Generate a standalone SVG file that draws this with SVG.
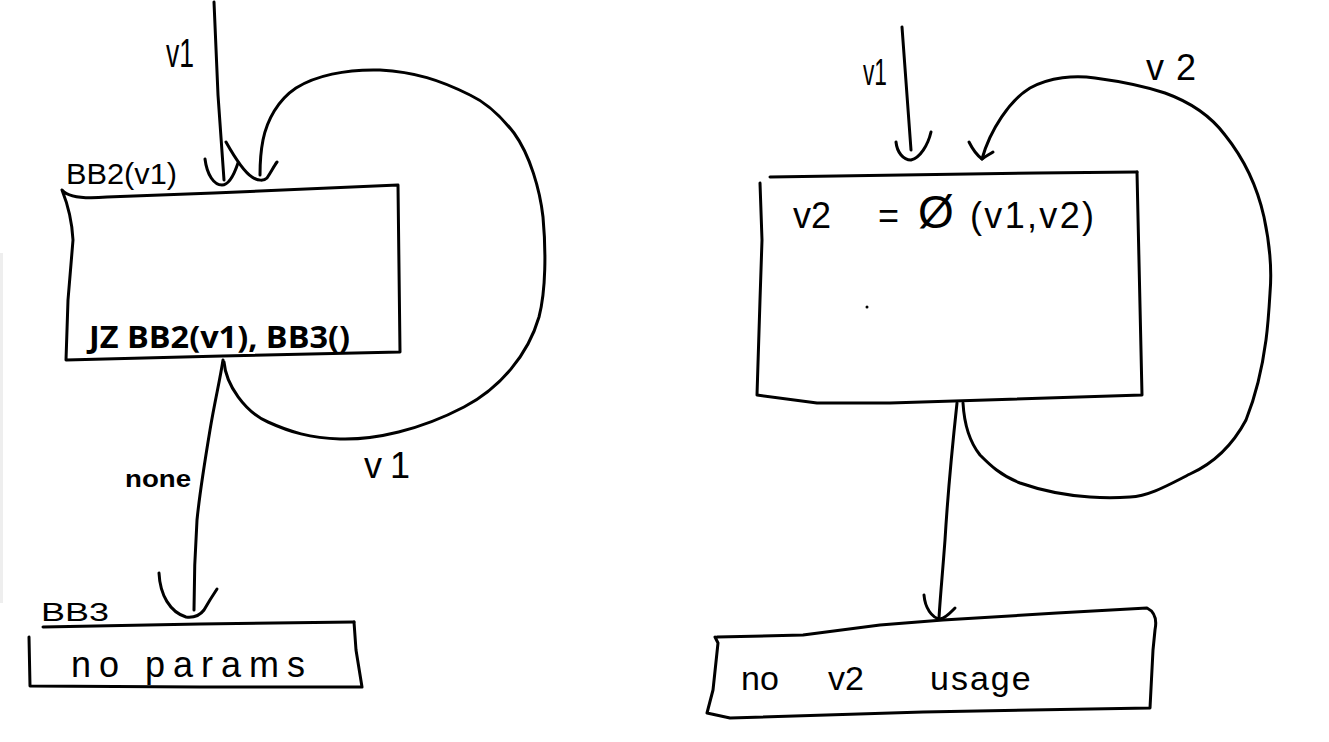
<svg xmlns="http://www.w3.org/2000/svg" width="1329" height="742" viewBox="0 0 1329 742">
<style>
.ln{fill:none;stroke:#000;stroke-width:3;stroke-linecap:round;stroke-linejoin:round}
.hw{font-family:"Liberation Sans","DejaVu Sans",sans-serif;fill:#000}
.code{font-family:"Open Sans","Liberation Sans",sans-serif;font-weight:bold;fill:#000}
</style>
<rect x="0" y="0" width="1329" height="742" fill="#fff"/>
<rect x="0" y="253" width="3" height="350" fill="#eeeeee"/>

<g id="connectors">
  <!-- left incoming v1 -->
  <path class="ln" d="M214,2 L218,95 L224,180"/>
  <path class="ln" d="M205,159 C207,175 214,185 222,185 C230,185 235,172 238,163"/>
  <!-- left loop -->
  <path class="ln" d="M224,362 C226,385 245,412 268,422 C290,432 310,438 340,439 C375,440 420,430 464,407 C500,388 528,355 539,317 C546,290 546,250 543,217 C540,190 530,155 514,133 C500,115 485,102 470,95 C440,80 415,72 380,70 C345,69 315,76 296,88 C278,100 267,120 263,140 C260,155 260,165 260,175"/>
  <path class="ln" d="M226,142 C235,158 244,172 252,177 C258,181 264,181 267,178 C271,172 274,166 277,162"/>
  <!-- left down to BB3 -->
  <path class="ln" d="M223,360 C220,380 215,400 210,430 C205,460 200,490 197,520 C195,550 194,580 194,610"/>
  <path class="ln" d="M159,573 C160,595 170,612 186,617 C195,618 201,614 204,610 C208,603 213,595 217,589"/>
  <!-- right incoming v1 -->
  <path class="ln" d="M902,27 C905,70 908,110 911,150"/>
  <path class="ln" d="M896,142 C897,152 903,160 911,160 C920,158 928,145 931,132"/>
  <!-- right loop -->
  <path class="ln" d="M963,403 C964,420 968,440 980,455 C990,465 1000,475 1020,483 C1040,490 1060,495 1090,497 C1105,498 1115,498 1130,497 C1150,496 1170,484 1190,474 C1210,465 1230,450 1246,420 C1254,400 1262,370 1266,340 C1268,325 1269,310 1270,293 C1272,270 1270,245 1264,217 C1258,190 1245,160 1225,135 C1210,115 1190,102 1165,93 C1150,88 1125,82 1095,78 C1075,75 1050,77 1030,88 C1010,100 990,130 982,159"/>
  <path class="ln" d="M969,142 C973,150 978,156 982,159 C986,156 990,154 993,152"/>
  <!-- right down -->
  <path class="ln" d="M957,403 C953,440 948,490 945,540 C942,580 940,600 939,618"/>
  <path class="ln" d="M924,595 C925,608 932,618 940,619 C946,618 951,612 955,608"/>
  <!-- edge labels -->
  <text class="hw" x="166" y="67" font-size="40" textLength="28" lengthAdjust="spacingAndGlyphs">v1</text>
  <text class="hw" x="125" y="487" font-size="24" font-weight="bold" textLength="66" lengthAdjust="spacingAndGlyphs">none</text>
  <text class="hw" x="364" y="478" font-size="36" textLength="46" lengthAdjust="spacing">v1</text>
  <text class="hw" x="863" y="85" font-size="36" textLength="24" lengthAdjust="spacingAndGlyphs">v1</text>
  <text class="hw" x="1146" y="80" font-size="36" textLength="50" lengthAdjust="spacing">v2</text>
</g>

<g id="bb2">
  <path class="ln" d="M62,190 C68,197 85,199 107,197 L214,193 L398,185 L400,352 L222,356 L66,360 L68,300 L73,240 C72,220 66,200 62,190 Z"/>
  <text class="hw" x="66" y="184" font-size="30" textLength="111" lengthAdjust="spacingAndGlyphs">BB2(v1)</text>
  <text class="code" x="89" y="348" font-size="31" textLength="261" lengthAdjust="spacingAndGlyphs">JZ BB2(v1), BB3()</text>
</g>

<g id="bb3">
  <path class="ln" d="M43,627 L200,624 L354,622"/>
  <path class="ln" d="M354,622 L356,650 L362,687 L200,687 L30,686 L29,637"/>
  <text class="hw" x="41" y="621" font-size="26" textLength="68" lengthAdjust="spacingAndGlyphs">BB3</text>
  <text class="hw" x="71" y="677" font-size="36" textLength="234" lengthAdjust="spacing">no params</text>
</g>

<g id="phi-block">
  <path class="ln" d="M770,177 L1037,173 L1137,172"/>
  <path class="ln" d="M1137,172 L1142,395 L890,403 L817,403 L757,395 L760,300 L762,240 L760,183"/>
  <text class="hw" font-size="36" y="228"><tspan x="793">v2</tspan><tspan x="878">=</tspan><tspan x="918" font-size="46">Ø</tspan><tspan x="970" textLength="124" lengthAdjust="spacing">(v1,v2)</tspan></text>
  <circle cx="867" cy="307" r="1.5" fill="#000"/>
</g>

<g id="exit-block">
  <path class="ln" d="M717,637 L803,635 L880,625 L943,620 L1057,613 L1147,608 C1155,612 1157,620 1155,630 L1153,650 L1150,708 L923,712 L730,718 L707,713 L713,690 L718,643 L715,637"/>
  <text class="hw" font-size="34" y="690"><tspan x="741">no</tspan><tspan x="828">v2</tspan><tspan x="930" letter-spacing="2">usage</tspan></text>
</g>
</svg>
